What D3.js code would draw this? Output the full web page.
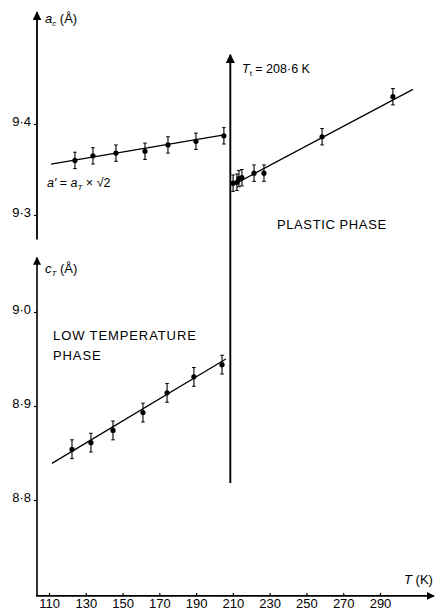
<!DOCTYPE html>
<html>
<head>
<meta charset="utf-8">
<script src="https://cdn.jsdelivr.net/npm/d3@7"></script>
<style>
  html, body { margin: 0; padding: 0; background: #fff; }
  svg { display: block; font-family: "Liberation Sans", Arial, sans-serif; }
</style>
</head>
<body>
<svg id="chart" width="436" height="616"></svg>
<script>
// Temperatures (K) and lattice parameters (Å)
const lowT_a = [124.1, 133.9, 146.4, 162.2, 174.7, 189.9, 205.1];
const lowA = [9.36, 9.365, 9.368, 9.37, 9.377, 9.381, 9.387];
const lowA_err = [0.009, 0.009, 0.009, 0.009, 0.009, 0.009, 0.009];

const plasticT = [210.1, 212.2, 213.3, 214.9, 221.5, 226.9, 258.5, 297.0];
const plasticA = [9.335, 9.336, 9.34, 9.341, 9.346, 9.346, 9.386, 9.43];
const plasticA_err = [0.009, 0.009, 0.009, 0.009, 0.009, 0.009, 0.009, 0.009];

const lowT_c = [122.5, 132.8, 144.8, 161.1, 174.2, 188.8, 204.1];
const lowC = [8.854, 8.861, 8.874, 8.893, 8.914, 8.931, 8.944];
const lowC_err = [0.01, 0.01, 0.01, 0.01, 0.01, 0.01, 0.01];

// fitted straight lines [T, value]
const fitA_low = [[111.1, 9.356], [205.2, 9.388]];
const fitA_plastic = [[210.1, 9.333], [307.9, 9.438]];
const fitC_low = [[111.6, 8.839], [206.2, 8.95]];

const xTicks = [110, 130, 150, 170, 190, 210, 230, 250, 270, 290];
const aTicks = [9.3, 9.4];
const cTicks = [8.8, 8.9, 9.0];
const Ttrans = 208.6;

const svg = d3.select("#chart");

const x = d3.scaleLinear().domain([110, 290]).range([49, 380]);
const yA = d3.scaleLinear().domain([9.3, 9.4]).range([215, 124]);
const yC = d3.scaleLinear().domain([8.8, 9.0]).range([500, 312]);

// arrow head
svg.append("defs").append("marker")
  .attr("id", "arrow")
  .attr("viewBox", "0 0 10 10")
  .attr("refX", 9).attr("refY", 5)
  .attr("markerWidth", 5).attr("markerHeight", 5)
  .attr("markerUnits", "strokeWidth")
  .attr("orient", "auto")
  .append("path")
  .attr("d", "M0,0L10,5L0,10z")
  .attr("fill", "#000");

const axX = 37;
const axisLine = (x1, y1, x2, y2, w) =>
  svg.append("line")
    .attr("x1", x1).attr("y1", y1).attr("x2", x2).attr("y2", y2)
    .attr("stroke", "#000").attr("stroke-width", w)
    .attr("marker-end", "url(#arrow)");

// upper (a) axis, lower (c) axis, T axis, transition line
axisLine(axX, yA(9.273), axX, yA(9.523), 1.8);
axisLine(axX, yC(8.698), axX, yC(9.058), 1.6);
axisLine(axX - 1, yC(8.698), 434, yC(8.698), 1.6);
axisLine(x(Ttrans), yC(8.818), x(Ttrans), yA(9.476), 1.9);

// tick marks + labels
const fmt = d => d3.format(".1f")(d).replace(".", "·");
const gA = svg.append("g").attr("transform", `translate(${axX},0)`)
  .call(d3.axisLeft(yA).tickValues(aTicks).tickSize(3).tickPadding(3).tickFormat(fmt));
const gC = svg.append("g").attr("transform", `translate(${axX},0)`)
  .call(d3.axisLeft(yC).tickValues(cTicks).tickSize(3).tickPadding(3).tickFormat(fmt));
const gX = svg.append("g").attr("transform", `translate(0,${yC(8.698)})`)
  .call(d3.axisBottom(x).tickValues(xTicks).tickSize(-3).tickPadding(4));

[gA, gC, gX].forEach(g => {
  g.select(".domain").remove();
  g.selectAll(".tick line").attr("stroke", "#000").attr("stroke-width", 1.2);
  g.selectAll(".tick text")
    .attr("fill", "#000")
    .attr("font-size", 13)
    .attr("font-family", "Liberation Sans, Arial, sans-serif");
});
gA.selectAll(".tick text").attr("dy", "0.1em");
gC.selectAll(".tick text").attr("dy", "0.1em");
gX.selectAll(".tick text").attr("dy", "0.6em");

// fit lines
const fitLine = (pts, y) =>
  svg.append("path")
    .datum(pts)
    .attr("fill", "none")
    .attr("stroke", "#000")
    .attr("stroke-width", 1.3)
    .attr("d", d3.line().x(d => x(d[0])).y(d => y(d[1])));

fitLine(fitA_low, yA);
fitLine(fitA_plastic, yA);
fitLine(fitC_low, yC);

// points with error bars
function drawPoints(ts, vs, errs, y) {
  const data = ts.map((t, i) => ({ t, v: vs[i], e: errs[i] }));
  const g = svg.append("g");
  g.selectAll(".eb").data(data).enter().append("line")
    .attr("x1", d => x(d.t)).attr("x2", d => x(d.t))
    .attr("y1", d => y(d.v - d.e)).attr("y2", d => y(d.v + d.e))
    .attr("stroke", "#000").attr("stroke-width", 1.1);
  [-1, 1].forEach(s => {
    g.selectAll(null).data(data).enter().append("line")
      .attr("x1", d => x(d.t) - 1.8).attr("x2", d => x(d.t) + 1.8)
      .attr("y1", d => y(d.v + s * d.e)).attr("y2", d => y(d.v + s * d.e))
      .attr("stroke", "#000").attr("stroke-width", 1);
  });
  g.selectAll("circle").data(data).enter().append("circle")
    .attr("cx", d => x(d.t)).attr("cy", d => y(d.v))
    .attr("r", 2.6).attr("fill", "#000");
}

drawPoints(lowT_a, lowA, lowA_err, yA);
drawPoints(plasticT, plasticA, plasticA_err, yA);
drawPoints(lowT_c, lowC, lowC_err, yC);

// labels
const label = (tx, ty, size) =>
  svg.append("text").attr("x", tx).attr("y", ty)
    .attr("font-size", size).attr("fill", "#000");

const la = label(45, 23, 13);
la.append("tspan").attr("font-style", "italic").text("a");
la.append("tspan").attr("font-size", 8).attr("dy", 3).attr("font-style", "italic").text("c");
la.append("tspan").attr("dy", -3).text(" (Å)");

const lc = label(45, 273, 13);
lc.append("tspan").attr("font-style", "italic").text("c");
lc.append("tspan").attr("font-size", 8).attr("dy", 3).attr("font-style", "italic").text("T");
lc.append("tspan").attr("dy", -3).text(" (Å)");

const lr = label(47, 187, 12.5);
lr.append("tspan").attr("font-style", "italic").text("a′");
lr.append("tspan").text(" = ");
lr.append("tspan").attr("font-style", "italic").text("a");
lr.append("tspan").attr("font-size", 8).attr("dy", 3).attr("font-style", "italic").text("T");
lr.append("tspan").attr("dy", -3).text(" × √2");

const lt = label(242, 73, 12.5);
lt.append("tspan").attr("font-style", "italic").text("T");
lt.append("tspan").attr("font-size", 8).attr("dy", 3).text("t");
lt.append("tspan").attr("dy", -3).text(" = 208·6 K");

label(277, 229, 13).attr("letter-spacing", 0.6).text("PLASTIC PHASE");
label(53, 340, 13).attr("letter-spacing", 0.9).text("LOW TEMPERATURE");
label(53, 360, 13).attr("letter-spacing", 0.9).text("PHASE");

const lT = label(404, 584, 13);
lT.append("tspan").attr("font-style", "italic").text("T");
lT.append("tspan").text(" (K)");
</script>
</body>
</html>
